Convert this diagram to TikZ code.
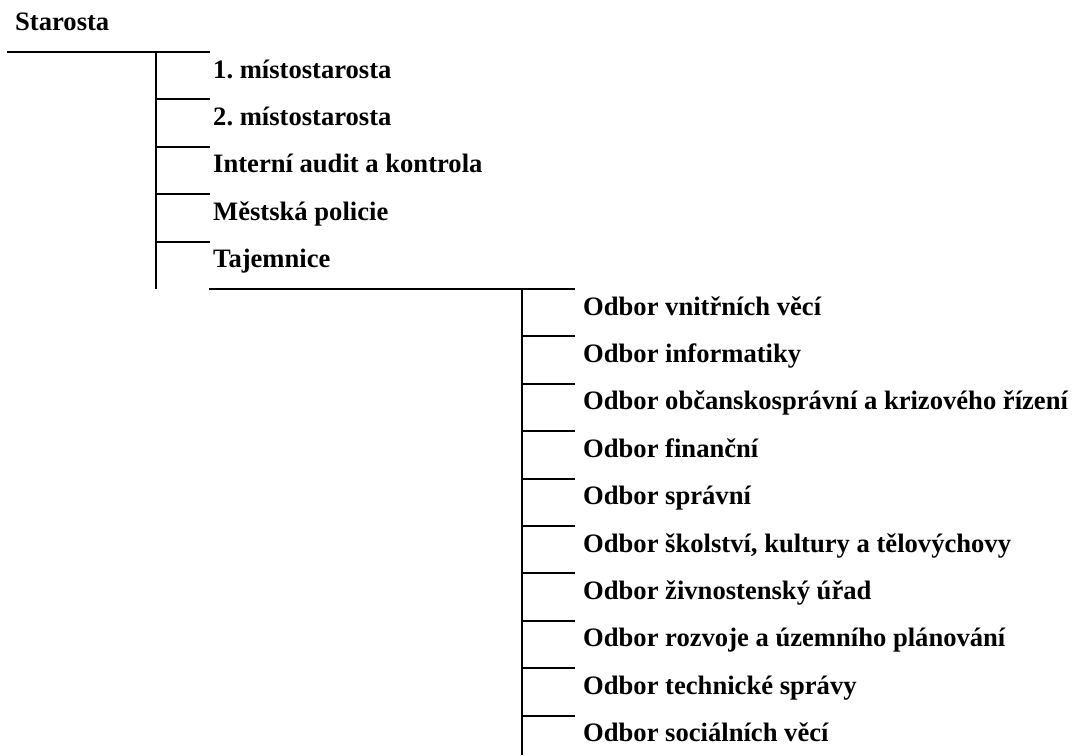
\documentclass[tikz,border=0pt]{standalone}
\usepackage{fontspec}
\setmainfont{Liberation Serif}
\usepackage{tikz}
\usetikzlibrary{positioning}
\frenchspacing

\begin{document}
\begin{tikzpicture}[
  x=1pt,y=-1pt,
  font=\bfseries\fontsize{26.6}{32}\selectfont,
  unit/.style={anchor=base west,inner sep=0pt},
  rule/.style={line width=2pt,draw=black}
]
\useasboundingbox (0,0) rectangle (1073,755);
\node[unit] (starosta) at (15,30) {Starosta};

% first level, below the mayor
\coordinate (topA) at (7,52);
\coordinate (spineA) at (156,52);
\coordinate (spineAend) at (156,289);
\foreach \id/\txt [count=\i from 0] in {mist1/1. místostarosta,mist2/2. místostarosta,
    audit/Interní audit a kontrola,policie/Městská policie,tajemnice/Tajemnice}{
  \coordinate (\id-l) at (156,52+47.4*\i);
  \coordinate (\id-r) at (210,52+47.4*\i);
  \node[unit] (\id) at (213,78+47.4*\i) {\txt};
  \draw[rule] (\id-l) -- (\id-r);
}
\draw[rule] (topA) -- (mist1-r);
\draw[rule] (spineA) -- (spineAend);

% second level, below the secretary
\coordinate (topB) at (209,289);
\coordinate (spineB) at (522,289);
\coordinate (spineBend) at (522,755);
\foreach \id/\txt [count=\i from 0] in {odb1/Odbor vnitřních věcí,odb2/Odbor informatiky,
    odb3/Odbor občanskosprávní a krizového řízení,odb4/Odbor finanční,odb5/Odbor správní,
    odb6/{Odbor školství, kultury a tělovýchovy},odb7/Odbor živnostenský úřad,
    odb8/Odbor rozvoje a územního plánování,odb9/Odbor technické správy,
    odb10/Odbor sociálních věcí}{
  \coordinate (\id-l) at (522,289+47.4*\i);
  \coordinate (\id-r) at (575,289+47.4*\i);
  \node[unit] (\id) at (583,315+47.4*\i) {\txt};
  \draw[rule] (\id-l) -- (\id-r);
}
\draw[rule] (topB) -- (odb1-r);
\draw[rule] (spineB) -- (spineBend);
\end{tikzpicture}
\end{document}
